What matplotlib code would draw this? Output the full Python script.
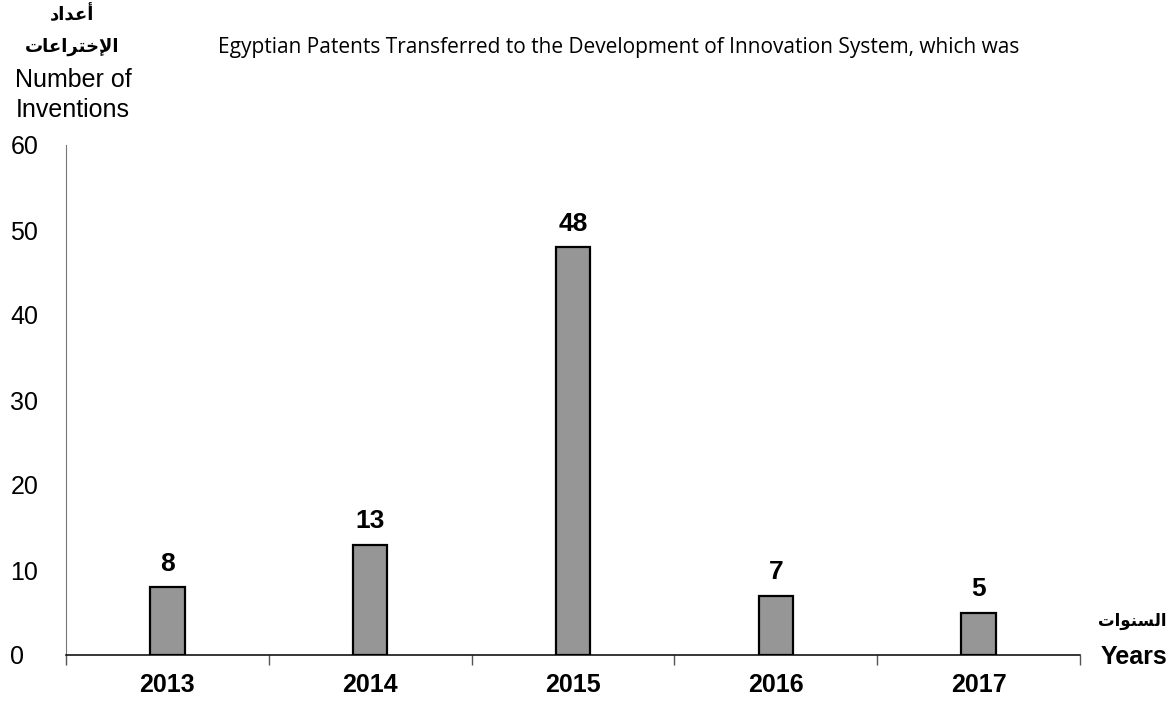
import matplotlib
matplotlib.use("Agg")
import matplotlib.pyplot as plt
import numpy as np

# data
years = ["2013", "2014", "2015", "2016", "2017"]
inventions = [8, 13, 48, 7, 5]
y_ticks = [0, 10, 20, 30, 40, 50, 60]

title = "Egyptian Patents Transferred to the Development of Innovation System, which was"
# Arabic labels written in visual order with presentation forms (no shaping in matplotlib)
ar_count = "\uFEA9\uFE8D\uFEAA\uFECB\uFE83"  # أعداد
ar_invent = "\uFE95\uFE8E\uFECB\uFE8D\uFEAE\uFE98\uFEA7\uFEF9\uFE8D"  # الإختراعات
ar_years = "\uFE95\uFE8D\uFEEE\uFEE8\uFEB4\uFEDF\uFE8D"  # السنوات

plt.rcParams["font.family"] = ["Liberation Sans", "DejaVu Sans"]

fig = plt.figure(figsize=(11.75, 7.01), dpi=100)
ax = fig.add_axes([66 / 1175, 1 - 655 / 701, (1080 - 66) / 1175, (655 - 145) / 701])

x = np.arange(len(years))
ax.bar(x, inventions, width=0.17, color="#969696", edgecolor="black",
       linewidth=1.6, zorder=3)
for xi, v in zip(x, inventions):
    ax.annotate(str(v), (xi, v), xytext=(0, 8), textcoords="offset points",
                ha="center", va="bottom", fontsize=19, fontweight="bold")

ax.set_xlim(-0.5, len(years) - 0.5)
ax.set_ylim(0, 60)

# category labels without ticks, ticks on the boundaries
ax.set_xticks(x)
ax.set_xticklabels(years, fontsize=18, fontweight="bold")
ax.tick_params(axis="x", which="major", length=0, pad=13)
ax.set_xticks(np.arange(-0.5, len(years)), minor=True)
ax.tick_params(axis="x", which="minor", length=7, width=1, color="#555555",
               direction="out")

ax.set_yticks(y_ticks)
ax.set_yticklabels([str(t) for t in y_ticks], fontsize=18)
ax.tick_params(axis="y", length=0, pad=40)
for lbl in ax.get_yticklabels():
    lbl.set_horizontalalignment("left")

for s in ["top", "right"]:
    ax.spines[s].set_visible(False)
ax.spines["left"].set_color("#777777")
ax.spines["left"].set_linewidth(0.8)
ax.spines["bottom"].set_color("black")
ax.spines["bottom"].set_linewidth(1.1)

# title and axis captions
fig.text(619 / 1175, 1 - 47 / 701, title, ha="center", va="center",
         fontsize=15, family=["Open Sans", "DejaVu Sans"])
fig.text(72 / 1175, 1 - 15 / 701, ar_count, ha="center", va="center",
         fontsize=13, fontweight="bold", family=["DejaVu Sans"])
fig.text(72 / 1175, 1 - 47 / 701, ar_invent, ha="center", va="center",
         fontsize=13, fontweight="bold", family=["DejaVu Sans"])
fig.text(73 / 1175, 1 - 80 / 701, "Number of", ha="center", va="center",
         fontsize=18)
fig.text(73 / 1175, 1 - 110 / 701, "Inventions", ha="center", va="center",
         fontsize=18)
fig.text(1132 / 1175, 1 - 621 / 701, ar_years, ha="center", va="center",
         fontsize=12, fontweight="bold", family=["DejaVu Sans"])
fig.text(1134 / 1175, 1 - 657 / 701, "Years", ha="center", va="center",
         fontsize=18, fontweight="bold")

fig.savefig("out.png", dpi=100, facecolor="white")
